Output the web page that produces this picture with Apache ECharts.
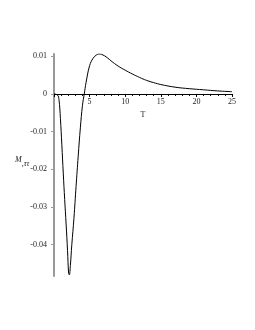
<!DOCTYPE html>
<html><head><meta charset="utf-8">
<script src="https://cdn.jsdelivr.net/npm/echarts@6/dist/echarts.min.js"></script>
<style>html,body{margin:0;padding:0;background:#fff}#c{width:255px;height:330px}</style>
</head><body><div id="c"></div>
<script>
const tValues = [0,0.5,0.7,0.9,1.1,1.3,1.5,1.7,1.9,2.05,2.15,2.3,2.5,2.8,3.1,3.4,3.7,4.0,4.25,4.5,5,5.5,6,6.3,6.7,7.5,8,9,10,11,12,13,14,15,17,19,21,23,25];
const mValues = [0,-0.0003,-0.0015,-0.0065,-0.0135,-0.021,-0.028,-0.0345,-0.0415,-0.0475,-0.048,-0.0455,-0.040,-0.033,-0.0245,-0.0165,-0.009,-0.003,0,0.003,0.0075,0.0095,0.0104,0.0106,0.0105,0.0096,0.0088,0.0074,0.0063,0.0053,0.0044,0.0036,0.003,0.0025,0.0018,0.0014,0.0011,0.0008,0.0006];
const xTickStep = 5;
const yTicks = [0.01,0,-0.01,-0.02,-0.03,-0.04];
const xName = 'T';
const yName = 'M';
const ySub = ',ττ';

const font = 'Liberation Serif';
const yMin = -0.0483, yMax = 0.0106;
const gridTop = 54, gridBottom = 54, H = 330;
const plotH = H - gridTop - gridBottom;
const zeroOffset = -((0 - yMin) / (yMax - yMin)) * plotH;
const chart = echarts.init(document.getElementById('c'));
chart.setOption({
  animation:false,
  grid:{left:54,right:23,top:gridTop,bottom:gridBottom},
  xAxis:{type:'value',min:0,max:25,interval:xTickStep,position:'bottom',offset:zeroOffset,
    axisLine:{onZero:false,lineStyle:{color:'#000',width:1}},
    axisTick:{length:3,inside:false,lineStyle:{color:'#000'}},
    minorTick:{show:true,splitNumber:5,length:2,lineStyle:{color:'#000'}},
    axisLabel:{color:'#222',fontFamily:font,fontSize:8,margin:4,
      formatter:v=>v===0?'':String(v)},
    splitLine:{show:false},
    name:xName,nameLocation:'middle',nameGap:15,
    nameTextStyle:{color:'#222',fontFamily:font,fontSize:8}
  },
  yAxis:{type:'value',min:yMin,max:yMax,
    axisLine:{show:true,lineStyle:{color:'#999',width:2}},
    axisTick:{show:true,customValues:yTicks,length:3,lineStyle:{color:'#999'}},
    axisLabel:{customValues:yTicks,color:'#222',fontFamily:font,fontSize:8,margin:7,
      formatter:v=>{const r=Math.round(v*100)/100; return r===0?'0':String(r);}},
    splitLine:{show:false}
  },
  graphic:[{type:'text',left:15,top:156,style:{
    text:'{m|'+yName+'}{s|'+ySub+'}',
    rich:{m:{fontFamily:font,fontStyle:'italic',fontSize:8,fill:'#222'},
          s:{fontFamily:font,fontStyle:'italic',fontSize:8,fill:'#222',padding:[8,0,0,0]}}
  }}],
  series:[{type:'line',data:tValues.map((t,i)=>[t,mValues[i]]),smooth:0.4,showSymbol:false,
    lineStyle:{color:'#000',width:1}}]
});
</script></body></html>
